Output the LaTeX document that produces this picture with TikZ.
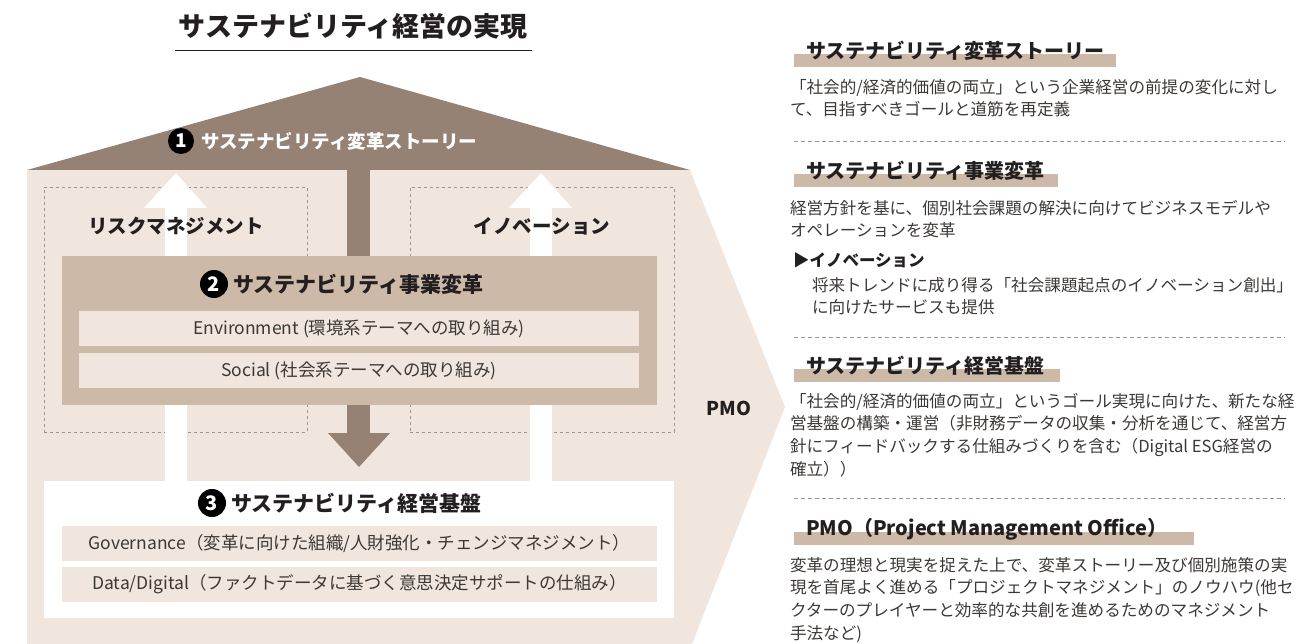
\documentclass[tikz,border=0pt]{standalone}
\usepackage{fontspec}
\setmainfont{Noto Sans CJK JP}
\usetikzlibrary{positioning}

\definecolor{roofbrown}{RGB}{150,129,117}
\definecolor{palebeige}{RGB}{240,230,221}
\definecolor{tanbox}{RGB}{205,185,167}
\definecolor{inkdark}{RGB}{35,31,32}
\definecolor{inkbody}{RGB}{60,56,54}
\definecolor{dashgray}{RGB}{150,150,150}

\newcommand{\fsz}[1]{\fontsize{#1}{#1}\selectfont}

\begin{document}
\begin{tikzpicture}[x=1pt, y=-1pt,
    every node/.style={inner sep=0pt, outer sep=0pt},
    numdot/.style={circle, fill=black, text=white, minimum size=28pt, font=\bfseries\fsz{20}},
    boxlabel/.style={font=\bfseries\fsz{19.5}, text=inkdark},
    bar/.style={fill=palebeige, minimum height=35pt, font=\fsz{17.5}, text=inkbody},
    dashbox/.style={draw=dashgray, dashed, line width=0.8pt},
    hdr/.style={anchor=west, font=\bfseries\fsz{20}, text=inkdark},
    para/.style={anchor=north west, align=left, font=\fontsize{16.6}{22.7}\selectfont, text=inkbody},
    sepline/.style={draw=dashgray, dash pattern=on 4pt off 3pt, line width=0.7pt}]
    \useasboundingbox (0,0) rectangle (1316,644);

    % title
    \node[font=\bfseries\fsz{27}, text=inkdark] (title) at (353,26) {サステナビリティ経営の実現};
    \draw[inkdark, line width=1pt] (175,51) -- (532,51);

    % house
    \coordinate (apex) at (360,77);
    \coordinate (eaveL) at (27,170);
    \coordinate (eaveR) at (690,170);
    \coordinate (tip) at (785,407);
    \coordinate (footR) at (692,644);
    \coordinate (footL) at (27,644);
    \fill[palebeige] (eaveL) -- (eaveR) -- (tip) -- (footR) -- (footL) -- cycle;
    \fill[roofbrown] (eaveL) -- (apex) -- (eaveR) -- cycle;

    % down arrow
    \fill[roofbrown] (347,170) rectangle (370,433);
    \fill[roofbrown] (328,433) -- (390,433) -- (359,467) -- cycle;

    \node[dashbox, minimum width=263, minimum height=245] (riskbox) at (175.5,309.5) {};
    \node[dashbox, minimum width=264, minimum height=245] (innobox) at (542,309.5) {};

    % up arrows
    \fill[white] (165,208) rectangle (187,481);
    \fill[white] (144,208) -- (207,208) -- (176,173) -- cycle;
    \fill[white] (530,208) rectangle (552,481);
    \fill[white] (509,208) -- (572,208) -- (541,173) -- cycle;

    \node[boxlabel] (risklbl) at (176,226) {リスクマネジメント};
    \node[boxlabel] (innolbl) at (542,226) {イノベーション};

    \node[fill=tanbox, minimum width=595, minimum height=149] (bizbox) at (359.5,330.5) {};
    \node[bar, minimum width=560] (envbar) at (359,328.5) {Environment (環境系テーマへの取り組み)};
    \node[bar, minimum width=560] (socbar) at (359,370.5) {Social (社会系テーマへの取り組み)};

    \node[fill=white, minimum width=630, minimum height=137] (basebox) at (359,549.5) {};
    \node[bar, minimum width=595] (govbar) at (359.5,543.5) {Governance（変革に向けた組織/人財強化・チェンジマネジメント）};
    \node[bar, minimum width=595] (databar) at (359.5,584.5) {Data/Digital（ファクトデータに基づく意思決定サポートの仕組み）};

    \node[numdot, minimum size=26pt, font=\bfseries\fsz{19}] (n1) at (181,141) {1};
    \node[right=7pt of n1, font=\bfseries\fsz{18.5}, text=white] (storylbl) {サステナビリティ変革ストーリー};
    \node[numdot] (n2) at (214,284) {2};
    \node[right=5pt of n2, boxlabel, font=\bfseries\fsz{21}] (bizlbl) {サステナビリティ事業変革};
    \node[numdot] (n3) at (212,503) {3};
    \node[right=5pt of n3, boxlabel, font=\bfseries\fsz{21}] (baselbl) {サステナビリティ経営基盤};

    \node[font=\bfseries\fsz{19}, text=inkdark] (pmo) at (729,408) {PMO};

    % right column
    \fill[tanbox] (794,54) rectangle (1116,67);
    \node[hdr] (h1) at (806,51) {サステナビリティ変革ストーリー};
    \node[para] (storytxt) at (790,79) {「社会的/経済的価値の両立」という企業経営の前提の変化に対し\\て、目指すべきゴールと道筋を再定義};
    \draw[sepline] (794,141) -- (1285,141);

    \fill[tanbox] (794,174) rectangle (1058,187);
    \node[hdr] (h2) at (806,171) {サステナビリティ事業変革};
    \node[para] (biztxt) at (790,200) {経営方針を基に、個別社会課題の解決に向けてビジネスモデルや\\オペレーションを変革};
    \node[anchor=north west, font=\bfseries\fsz{16.5}, text=inkdark] (innohdr) at (793,253) {▶イノベーション};
    \node[para] (innotxt) at (812,277) {将来トレンドに成り得る「社会課題起点のイノベーション創出」\\に向けたサービスも提供};
    \draw[sepline] (794,337) -- (1285,337);

    \fill[tanbox] (794,369) rectangle (1060,382);
    \node[hdr] (h3) at (806,366) {サステナビリティ経営基盤};
    \node[para] (basetxt) at (790,393) {「社会的/経済的価値の両立」というゴール実現に向けた、新たな経\\営基盤の構築・運営（非財務データの収集・分析を通じて、経営方\\針にフィードバックする仕組みづくりを含む（Digital ESG経営の\\確立））};
    \draw[sepline] (794,498) -- (1285,498);

    \fill[tanbox] (794,532) rectangle (1194,545);
    \node[hdr] (h4) at (806,529) {PMO（Project Management Office）};
    \node[para] (pmotxt) at (790,557) {変革の理想と現実を捉えた上で、変革ストーリー及び個別施策の実\\現を首尾よく進める「プロジェクトマネジメント」のノウハウ(他セ\\クターのプレイヤーと効率的な共創を進めるためのマネジメント\\手法など)};
\end{tikzpicture}
\end{document}
